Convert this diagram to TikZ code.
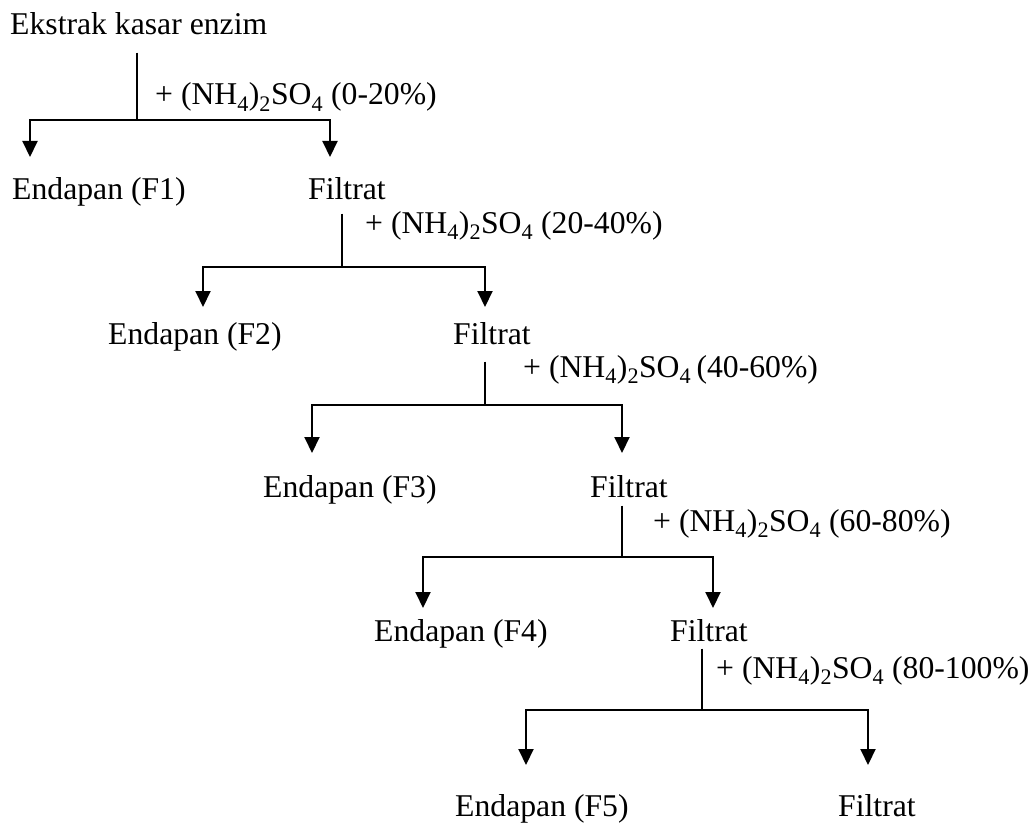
\documentclass[tikz,border=0pt]{standalone}
\usepackage{fontspec}
\setmainfont{Liberation Serif}
\usetikzlibrary{arrows.meta}

\begin{document}
\begin{tikzpicture}[x=1pt, y=-1pt,
  every node/.style={font=\fontsize{31.7}{38}\selectfont},
  txt/.style={anchor=base west,inner sep=0pt},
  stem/.style={line width=2pt},
  arr/.style={line width=2pt,-{Triangle[length=16pt,width=15pt]}}]
\useasboundingbox (0,0) rectangle (1035,829);
\newcommand{\amsulf}[2][\ ]{+ (NH\textsubscript{4})\textsubscript{2}SO\textsubscript{4}#1(#2)}
% level 1
\node[txt] (e0) at (10,35) {Ekstrak kasar enzim};
\node[txt] (lb1) at (155,105) {\amsulf{0-20\%}};
\node[txt] (en1) at (12,199) {Endapan (F1)};
\node[txt] (fi1) at (308,199) {Filtrat};
\coordinate (j1) at (137,120);
\coordinate (t1a) at (30,157);
\coordinate (t1b) at (330,157);
\draw[stem,shorten <=17pt] (e0.south -| j1) -- (j1);
\draw[arr] (j1) -| (t1a);
\draw[arr] (j1) -| (t1b);
% level 2
\node[txt] (lb2) at (365,233) {\amsulf{20-40\%}};
\node[txt] (en2) at (108,344) {Endapan (F2)};
\node[txt] (fi2) at (453,344) {Filtrat};
\coordinate (j2) at (342,267);
\coordinate (t2a) at (203,307);
\coordinate (t2b) at (485,307);
\draw[stem,shorten <=14pt] (fi1.south -| j2) -- (j2);
\draw[arr] (j2) -| (t2a);
\draw[arr] (j2) -| (t2b);
% level 3
\node[txt] (lb3) at (523,377) {\amsulf[\,]{40-60\%}};
\node[txt] (en3) at (263,497) {Endapan (F3)};
\node[txt] (fi3) at (590,497) {Filtrat};
\coordinate (j3) at (485,405);
\coordinate (t3a) at (312,453);
\coordinate (t3b) at (622,453);
\draw[stem,shorten <=17pt] (fi2.south -| j3) -- (j3);
\draw[arr] (j3) -| (t3a);
\draw[arr] (j3) -| (t3b);
% level 4
\node[txt] (lb4) at (653,531) {\amsulf{60-80\%}};
\node[txt] (en4) at (374,641) {Endapan (F4)};
\node[txt] (fi4) at (670,641) {Filtrat};
\coordinate (j4) at (622,557);
\coordinate (t4a) at (423,608);
\coordinate (t4b) at (713,608);
\draw[stem,shorten <=8pt] (fi3.south -| j4) -- (j4);
\draw[arr] (j4) -| (t4a);
\draw[arr] (j4) -| (t4b);
% level 5
\node[txt] (lb5) at (716,678) {\amsulf{80-100\%}};
\node[txt] (en5) at (455,816) {Endapan (F5)};
\node[txt] (fi5) at (838,816) {Filtrat};
\coordinate (j5) at (702,710);
\coordinate (t5a) at (526,765);
\coordinate (t5b) at (868,765);
\draw[stem,shorten <=7pt] (fi4.south -| j5) -- (j5);
\draw[arr] (j5) -| (t5a);
\draw[arr] (j5) -| (t5b);
\end{tikzpicture}
\end{document}
